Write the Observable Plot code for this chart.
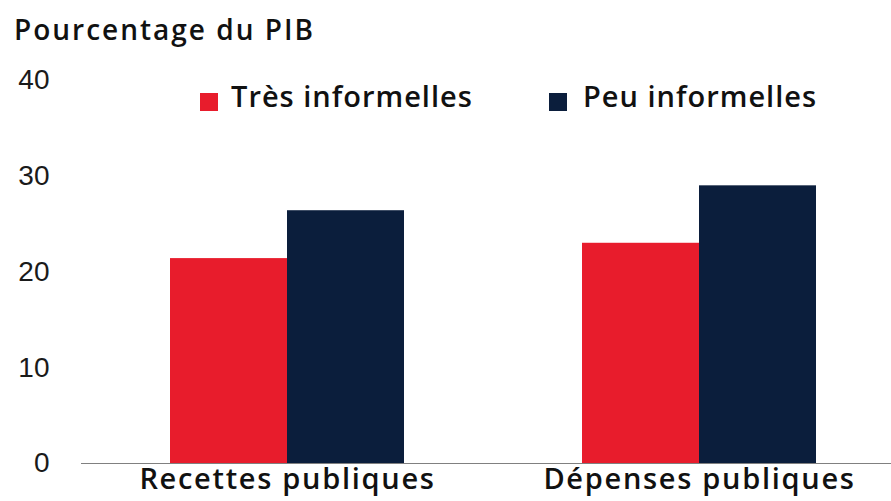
<!DOCTYPE html>
<html><head><meta charset="utf-8">
<script src="https://cdn.jsdelivr.net/npm/d3@7"></script>
<script src="https://cdn.jsdelivr.net/npm/@observablehq/plot@0.6"></script>
<style>
body{margin:0;background:#fff;}
#wrap{position:relative;width:891px;height:501px;overflow:hidden;background:#fff;}
#wrap svg{position:absolute;left:0;top:0;overflow:hidden;}
#wrap svg g[aria-label="fx-axis tick label"] text{letter-spacing:1.7px;}
.t{position:absolute;font-family:"Open Sans",sans-serif;font-weight:600;color:#111;line-height:1;white-space:nowrap;}
#title{left:14px;top:15px;font-size:28px;letter-spacing:2px;}
.sw{position:absolute;width:18px;height:18px;top:93px;}
.lg{font-size:29px;top:81px;letter-spacing:1px;}
</style></head><body><div id="wrap"></div>
<script>
const categories = ["Recettes publiques", "Dépenses publiques"];
const series = ["Très informelles", "Peu informelles"];
const tresInformelles = [21.4, 23.0];
const peuInformelles = [26.4, 29.0];
const colors = ["#e81c2c", "#0b1e3c"];
const yTicks = [0, 10, 20, 30, 40];
const titleText = "Pourcentage du PIB";

const data = categories.flatMap((c, i) => [
  {category: c, series: series[0], value: tresInformelles[i]},
  {category: c, series: series[1], value: peuInformelles[i]}
]);

const chart = Plot.plot({
  width: 891, height: 501,
  marginLeft: 80, marginRight: 0, marginTop: 80, marginBottom: 38,
  fx: {domain: categories, range: [80.5, 904.5], padding: 0, axis: null},
  x: {domain: series, paddingInner: 0, paddingOuter: 0.753, axis: null},
  y: {domain: [0, 40], axis: null},
  color: {domain: series, range: colors},
  marks: [
    Plot.barY(data, {fx: "category", x: "series", y: "value", fill: "series", inset: 0}),
    Plot.ruleY([0], {stroke: "#808080", strokeWidth: 1}),
    Plot.axisY({ticks: yTicks, tickSize: 0, tickPadding: 32, fontSize: 28, label: null,
      fontFamily: "Liberation Sans, Arial, sans-serif", fill: "#1a1a1a"}),
    Plot.axisFx({anchor: "bottom", tickSize: 0, tickPadding: 5, fontSize: 29, label: null,
      fontFamily: "Open Sans, sans-serif", fontWeight: 600, fill: "#111"})
  ]
});
const wrap = document.getElementById("wrap");
wrap.appendChild(chart);

const title = document.createElement("div");
title.className = "t"; title.id = "title"; title.textContent = titleText;
wrap.appendChild(title);

const legendPos = [{sw: 200, tx: 231}, {sw: 549, tx: 583}];
series.forEach((s, i) => {
  const sq = document.createElement("div");
  sq.className = "sw";
  sq.style.left = legendPos[i].sw + "px";
  sq.style.background = colors[i];
  wrap.appendChild(sq);
  const tx = document.createElement("div");
  tx.className = "t lg";
  tx.style.left = legendPos[i].tx + "px";
  tx.textContent = s;
  wrap.appendChild(tx);
});
</script>
</body></html>
